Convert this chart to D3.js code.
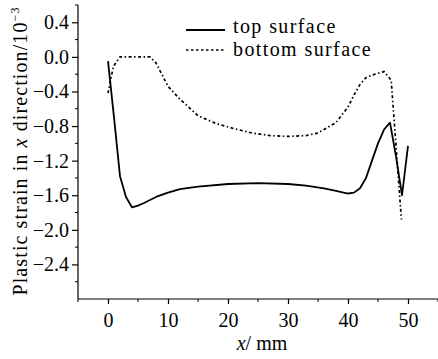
<!DOCTYPE html>
<html><head><meta charset="utf-8">
<script src="https://cdn.jsdelivr.net/npm/d3@7"></script>
<style>body{margin:0;background:#fff}svg{display:block}text{font-family:"Liberation Serif","DejaVu Serif","Times New Roman",serif;fill:#000}</style>
</head><body>
<script>
const topX = [0,1,2,3,4,5,6,8,10,12,15,20,25,30,33,36,38,40,41,42,43,44,45,46,47,48,49,50];
const topY = [-0.05,-0.7,-1.38,-1.62,-1.74,-1.72,-1.69,-1.62,-1.57,-1.53,-1.50,-1.47,-1.46,-1.47,-1.49,-1.52,-1.55,-1.58,-1.57,-1.52,-1.40,-1.20,-1.00,-0.84,-0.76,-1.15,-1.60,-1.03];
const botX = [0,0.9,2,4,7,8,10,12,15,18,21,24,27,30,33,35,38,40,41,42,43,44,45,46,47.2,48.9];
const botY = [-0.42,-0.11,0,0,0,-0.07,-0.34,-0.49,-0.68,-0.77,-0.83,-0.88,-0.91,-0.92,-0.91,-0.88,-0.76,-0.58,-0.44,-0.32,-0.24,-0.21,-0.19,-0.17,-0.27,-1.88];
const yTicks = [0.4,0.0,-0.4,-0.8,-1.2,-1.6,-2.0,-2.4];
const xTicks = [0,10,20,30,40,50];
const seriesNames = ["top surface","bottom surface"];

const W=438,H=359;
const svg=d3.select("body").append("svg").attr("width",W).attr("height",H);
const x=d3.scaleLinear().domain([-5,55]).range([78,438]);
const y=d3.scaleLinear().domain([-2.8,0.6]).range([299,5]);
const FF='"Liberation Serif","DejaVu Serif",serif';

// axes
const yAxis=d3.axisLeft(y).tickValues(yTicks).tickSize(6).tickPadding(3)
  .tickFormat(d=>(d<0?"\u2212":"")+Math.abs(d).toFixed(1));
const gy=svg.append("g").attr("transform","translate(78,0)").call(yAxis).attr("font-family",FF);
gy.select(".domain").attr("d","M0,5V299");
gy.selectAll("text").style("font-size","20px");
const yMinor=d3.range(-2.6,0.61,0.4);
gy.selectAll(".minor").data(yMinor).enter().append("line").attr("x1",-3).attr("x2",0)
  .attr("y1",d=>y(d)).attr("y2",d=>y(d)).attr("stroke","#000");

const xAxis=d3.axisBottom(x).tickValues(xTicks).tickSize(5).tickPadding(9).tickFormat(d3.format("d"));
const gx=svg.append("g").attr("transform","translate(0,299)").call(xAxis).attr("font-family",FF);
gx.select(".domain").attr("d","M78,0H438");
gx.selectAll("text").style("font-size","20px");
const xMinor=d3.range(-5,56,10);
gx.selectAll(".minor").data(xMinor).enter().append("line").attr("y1",0).attr("y2",3)
  .attr("x1",d=>x(d)).attr("x2",d=>x(d)).attr("stroke","#000");
svg.selectAll(".domain,.tick line").attr("stroke","#000").attr("stroke-width",1.2);

// lines
const line=d3.line().x(d=>x(d[0])).y(d=>y(d[1]));
svg.append("path").datum(topX.map((v,i)=>[v,topY[i]])).attr("d",line)
  .attr("fill","none").attr("stroke","#000").attr("stroke-width",1.8).attr("stroke-linejoin","round");
svg.append("path").datum(botX.map((v,i)=>[v,botY[i]])).attr("d",line)
  .attr("fill","none").attr("stroke","#000").attr("stroke-width",1.7).attr("stroke-dasharray","3,2.5,1.5,2.5");

// legend
const lg=svg.append("g");
lg.append("line").attr("x1",186).attr("x2",225).attr("y1",30).attr("y2",30).attr("stroke","#000").attr("stroke-width",1.8);
lg.append("line").attr("x1",186).attr("x2",225).attr("y1",50).attr("y2",50).attr("stroke","#000").attr("stroke-width",1.6).attr("stroke-dasharray","2.5,2.5");
lg.append("text").attr("x",233).attr("y",33).style("font-size","20px").style("letter-spacing","1.4px").text(seriesNames[0]);
lg.append("text").attr("x",233).attr("y",56).style("font-size","20px").style("letter-spacing","1.4px").text(seriesNames[1]);

// axis titles
const xt=svg.append("text").attr("x",262).attr("y",350).attr("text-anchor","middle").style("font-size","20px");
xt.append("tspan").style("font-style","italic").text("x");
xt.append("tspan").text("/ mm");

const yt=svg.append("text").attr("transform","translate(27,151) rotate(-90)").attr("text-anchor","middle").style("font-size","20px").style("letter-spacing","1.1px");
yt.append("tspan").text("Plastic strain in ");
yt.append("tspan").style("font-style","italic").text("x");
yt.append("tspan").text(" direction/10");
yt.append("tspan").attr("dy",-8).style("font-size","12px").text("\u22123");
</script>
</body></html>
